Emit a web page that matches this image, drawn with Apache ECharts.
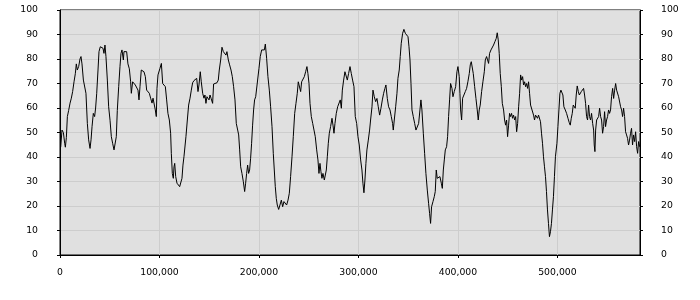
<!DOCTYPE html>
<html><head><meta charset="utf-8">
<script src="https://cdn.jsdelivr.net/npm/echarts@6/dist/echarts.min.js"></script>
<style>html,body{margin:0;padding:0;background:#fff}#c{width:700px;height:300px}</style>
</head><body><div id="c"></div>
<script>
// x positions in thousands
const xsK = [
0.7,2.0,3.4,4.7,5.4,6.4,7.4,8.7,10.1,11.4,12.7,14.1,15.4,16.4,17.4,18.8,20.1,21.1,22.1,23.5,24.8,26.1,27.5,28.8,30.2,31.2,32.2,33.5,34.8,35.8,36.9,38.2,39.2,40.5,41.9,43.2,44.2,45.2,46.2,47.6,48.9,50.3,51.6,52.9,54.3,55.6,56.6,57.6,59.0,60.3,61.3,62.3,63.7,64.3,65.7,67.0,68.3,69.7,71.0,71.7,73.0,74.4,75.7,77.1,78.4,79.4,80.4,81.7,83.1,84.4,85.8,87.1,88.4,89.8,91.1,92.5,93.5,94.8,95.8,96.8,97.5,98.5,
100.5,101.9,103.2,104.5,105.9,107.2,108.5,109.9,111.2,111.9,112.9,113.9,114.6,115.3,116.3,117.6,118.9,120.3,121.6,122.6,123.6,124.6,125.6,126.6,128,129.3,130.7,132,133.3,134.7,136,137.4,138.7,139.7,141,142,143.4,144.7,145.7,146.7,147.7,148.7,149.8,150.8,151.8,152.8,153.4,154.4,156.1,157.8,159.1,160.1,161.5,162.8,164.2,165.5,166.8,167.8,169.2,170.5,171.9,173.2,174.5,175.9,177.2,178.6,179.6,180.6,181.6,182.9,184.3,185.6,186.6,187.6,188.6,189.6,190.6,191.6,192.6,193.6,194.6,195.6,196.7,198,
200,201.3,202.7,204,205.4,206.4,207.7,209,210.4,211.7,213.1,214.4,215.4,216.4,217.4,218.4,219.8,221.1,222.5,223.8,225.1,226.5,227.8,229.2,230.5,231.8,233.2,234.5,235.9,237.2,238.5,239.5,240.9,241.9,242.9,244.2,245.6,246.9,248.2,249.2,250.3,251.3,252.6,254,255.3,256.6,258,259.3,260.3,261.3,262.3,263.3,264.3,265.7,266.7,267.7,268.7,269.7,270.7,272,273.4,274.4,275.4,276.4,277.7,279.1,280.4,281.7,282.8,283.8,285.1,286.4,287.8,288.8,290.1,291.5,292.8,294.1,295.5,296.8,298.2,299.5,
300.8,302.2,303.5,304.5,305.5,306.5,307.5,308.5,309.9,311.2,312.2,313.6,314.6,315.9,317.3,318.6,319.9,321.3,322.6,324,325.3,326.6,327.6,329,330.3,331.7,333,334.3,335,336,337.4,338.7,339.7,341,342,343,344.4,345.7,347.1,348.4,349.8,350.8,351.8,352.8,353.8,355.1,356.5,357.8,359.1,360.5,361.8,362.8,363.8,365.2,366.5,367.8,369.2,370.5,371.5,372.5,373.5,374.9,376.2,377.2,378.2,379.2,380.6,381.9,383.3,384.3,385.3,386.3,387.3,388.6,389.6,390.6,391.6,392.6,394,395,396.3,397.7,399,400,
401.3,402,402.7,403.7,404.7,406,407.4,408.7,410,411.4,412.4,413.4,414.4,415.4,416.8,418.1,419.4,420.4,421.4,422.4,423.8,425.1,426.5,427.5,428.8,429.8,430.8,431.8,433.2,434.5,435.8,437.2,438.5,439.5,440.5,441.5,442.5,443.6,444.6,445.9,446.9,447.9,448.9,449.9,450.9,451.9,452.9,453.9,454.9,455.9,457,458,459,460,461,462,463,464,465,466,467,468,469,470,471,472,473,474,475,476,477,478,479,480,481,482,483,484,485,486,487,488,489,490,491,492,493,494,495,496,497,498,
499.5,500.5,501.5,502.5,503.5,504.5,505.5,506.5,507.9,509.2,510.6,511.9,512.9,513.9,514.9,515.9,516.9,517.9,518.9,519.9,521,522,523,524,525.3,526.3,527.3,528.3,529.3,530.3,531.3,532.3,533.3,534.3,535.4,536.4,537,537.7,538.4,539.4,540.4,541.4,542.4,543.4,544.4,545.4,546.4,547.4,548.4,549.4,550.4,551.4,552.4,553.4,554.4,555.5,556.5,557.5,558.5,559.5,560.5,561.5,562.5,563.5,564.5,565.5,566.5,567.5,568.5,569.5,570.5,571.5,572.5,573.5,574.5,575.5,576.5,577.6,578.6,579.6,580.6,581.6,582.6
];
const ys = [
44,51,50,45.6,44,48,56.5,59,62,64,66.7,70.7,74,78,75.5,77,80,81,78,71.4,70.7,66,53.7,47,43.5,47,52.4,57.8,56.5,60,66,75.5,83,85,85.3,84.4,82.3,85.7,81,71.4,60.5,55,48.3,45.6,42.9,42.2,48.3,59,68.7,77,82.3,83.7,79.6,83,83.7,83,78,76,70.7,66,70.7,70.7,69.4,69.8,67.3,63.3,68.7,75.5,76.2,74.8,72.8,67.3,68,66,64,62,64,63.3,59.2,56.5,68,73.5,
76.2,78.2,70,69.4,68.7,63.3,57.8,55.1,49.7,41.5,33.3,31.3,36,37.4,32,29.3,28.6,27.9,28.6,31.3,36.7,40.1,40.1,48.3,55.1,61.2,64,67.3,70.3,71.2,70.7,72.1,66.7,69.4,74.8,70.7,66,64,65.3,61.9,64.6,65.3,63.3,65.3,64,64.6,61.9,69.8,70.3,70.3,71.4,75.5,79.6,84.8,83,83.7,81.6,83,79.6,77.6,75.5,72.8,68.7,63.3,53.7,51,49,42.9,36,33.3,29.9,25.9,29.3,33.3,36.7,33.3,34.7,39.5,45.6,53,59.2,63.3,64.6,65.3,
76.2,81,83.7,84.4,83.7,86.1,80.3,72.8,67.3,60.5,52.4,41.5,34.7,27.9,23.1,20.4,18.6,20.4,22.4,19.7,21.8,21.1,20.4,22.4,25.2,32,40.1,48.3,57.8,61.9,66,70.7,71.2,66.7,70.7,71.4,72.8,74.8,76.9,74.1,70,61.9,56.5,53.7,51,48.3,42.9,38.8,33.3,37.4,34,31.3,33.3,30.6,29.9,34.7,40.1,45.6,49.7,52.4,55.8,53,49.7,53.7,57.8,60.5,61.2,63.3,59.9,67.3,71.4,74.8,74.1,71.4,74.1,76.9,74.1,71.4,68.7,56.5,53.7,48.3,
44.9,38.8,34.7,29.3,25.4,30.6,37.4,42.9,46.9,51,55.1,60.5,67.3,64.6,62.6,63.9,60.5,57.1,59.9,63.3,66,68,69.4,63.9,60.5,59.2,56.5,53.7,51,55.1,60.5,66,72.1,75.5,81,86.4,90.5,92.1,90.5,90.2,89.1,85,79.6,70,59.2,56.5,53.7,51,50.7,53.7,59.2,63.3,59.2,49.7,41.5,33.3,26.5,21.1,17,12.9,19.7,21.8,23.8,25.9,34.7,31.3,30.6,32,29.3,27.2,34.7,38.8,42.9,44.2,48.3,56.5,63.3,70,68,64.6,66.7,68.7,74.8,76.9,
72.8,66,59.2,55.1,64,65.3,66.7,68,70.7,74.1,77.6,78.9,78.2,74.1,68.7,63.9,59.2,55.1,59.2,61.2,66.7,70.7,74.8,79.6,81,79.6,78.2,82.3,83.7,84.4,85.7,87.1,88.4,90.7,87.8,82.3,74.1,68.7,61.9,59.2,55.1,53,55.1,48.3,53,57.8,56.5,57.8,55.8,57.1,55.1,56.5,50.3,53.7,60.5,66,73.5,71.4,72.8,69.4,70.7,68.7,70,68,70.7,66,61.2,61.2,60.5,57.1,55.1,57.1,56.5,55.8,57.1,56.5,54.4,49.7,45.6,40.1,36,32,25.9,18.4,12.9,7.5,9.5,12.9,18.4,23.8,32,40.1,
45.6,52.4,59.2,66,67.3,68,65.3,60.5,59.2,57.8,55.8,54,53,55.8,57.8,61.2,61.9,59.9,65.3,69,66.7,65.3,66,66.7,67.3,68,65.3,61.9,56.5,55.1,61.2,56.5,55.1,57.8,53.7,51,44.9,42.2,51,55.1,55.1,56.5,59.9,56.5,55.1,49.7,52.4,58.5,52.4,55.1,56.5,59.2,57.8,59.2,64.6,68,63.9,67.3,70,67.3,66.7,64.6,65.3,60.5,59.2,56.5,59.9,56.5,50.3,49,47.6,44.9,46.9,49.7,51.7,44.9,49,46.3,50.3,44.2,41.5,46.3,44.2
];
const xMax = 583000;
const yTicks = [0, 100, 10];

const data = xsK.map((x, i) => [x * 1000, ys[i]]);
const font = { fontFamily: 'DejaVu Sans', fontSize: 9.3, color: '#000' };
const chart = echarts.init(document.getElementById('c'), null, { renderer: 'canvas' });
const yBase = {
  type: 'value', min: yTicks[0], max: yTicks[1], interval: yTicks[2],
  axisLine: { show: true, lineStyle: { color: '#000', width: 1 } },
  axisTick: { show: true, length: 3, lineStyle: { color: '#000' } },
  axisLabel: Object.assign({ margin: 22 }, font)
};
chart.setOption({
  animation: false,
  grid: { left: 60, right: 60, top: 10, bottom: 45, show: true, backgroundColor: '#e0e0e0', borderColor: '#000', borderWidth: 1 },
  xAxis: {
    type: 'value', min: 0, max: xMax, interval: 100000,
    axisLine: { show: true, onZero: false, lineStyle: { color: '#000' } },
    axisTick: { show: true, length: 3, lineStyle: { color: '#000' } },
    axisLabel: Object.assign({ margin: 13, showMaxLabel: false }, font),
    splitLine: { show: true, lineStyle: { color: '#cdcdcd', width: 1 } }
  },
  yAxis: [
    Object.assign({}, yBase, { position: 'left', splitLine: { show: true, lineStyle: { color: '#cdcdcd', width: 1 } } }),
    Object.assign({}, yBase, { position: 'right', axisLabel: Object.assign({ margin: 21 }, font), splitLine: { show: false } })
  ],
  series: [{
    type: 'line', data: data, showSymbol: false, symbol: 'none',
    lineStyle: { color: '#000', width: 1 }, z: 5
  }]
});
</script></body></html>
